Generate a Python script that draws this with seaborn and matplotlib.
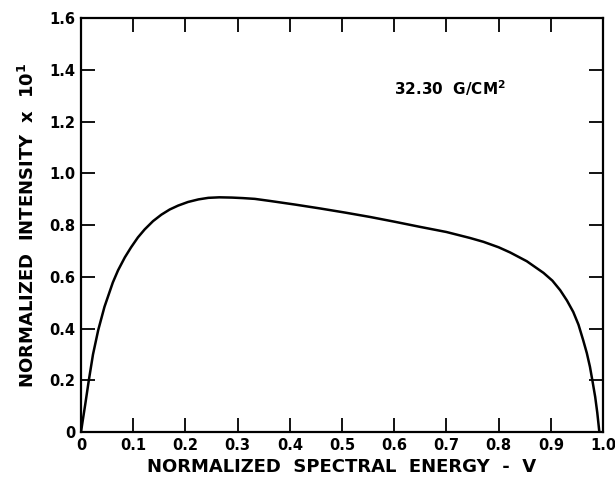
import matplotlib
matplotlib.use("Agg")
import matplotlib.pyplot as plt
import seaborn as sns
import pandas as pd

# values
energy = [0.0, 0.003, 0.008, 0.015, 0.023, 0.033, 0.045, 0.061, 0.071, 0.084, 0.096,
          0.109, 0.122, 0.138, 0.154, 0.170, 0.186, 0.205, 0.225, 0.244, 0.265, 0.289,
          0.310, 0.333, 0.362, 0.410, 0.458, 0.506, 0.554, 0.600, 0.649, 0.700, 0.745,
          0.771, 0.800, 0.822, 0.854, 0.886, 0.903, 0.918, 0.931, 0.943, 0.953, 0.962,
          0.969, 0.975, 0.980, 0.985, 0.989, 0.993]
intensity = [0.0, 0.04, 0.105, 0.2, 0.3, 0.394, 0.484, 0.578, 0.625, 0.675, 0.714,
             0.752, 0.783, 0.815, 0.840, 0.860, 0.875, 0.889, 0.899, 0.905, 0.907, 0.906,
             0.904, 0.901, 0.893, 0.879, 0.864, 0.848, 0.831, 0.813, 0.793, 0.773, 0.750,
             0.735, 0.714, 0.694, 0.660, 0.615, 0.585, 0.548, 0.508, 0.464, 0.415, 0.355,
             0.305, 0.252, 0.195, 0.136, 0.075, 0.0]

x_ticks = [0.0, 0.1, 0.2, 0.3, 0.4, 0.5, 0.6, 0.7, 0.8, 0.9, 1.0]
x_labels = ["0", "0.1", "0.2", "0.3", "0.4", "0.5", "0.6", "0.7", "0.8", "0.9", "1.0"]
y_ticks = [0.0, 0.2, 0.4, 0.6, 0.8, 1.0, 1.2, 1.4, 1.6]
y_labels = ["0", "0.2", "0.4", "0.6", "0.8", "1.0", "1.2", "1.4", "1.6"]

sns.set_style("ticks")
plt.rcParams['font.family'] = ['DejaVu Sans']
plt.rcParams['text.color'] = 'black'
plt.rcParams['axes.labelcolor'] = 'black'

df = pd.DataFrame({'v': energy, 'intensity': intensity})

fig = plt.figure(figsize=(6.15, 4.79), dpi=100)
ax = fig.add_axes([0.1317, 0.0981, 0.8488, 0.8643])

sns.lineplot(data=df, x='v', y='intensity', ax=ax, color='black', linewidth=1.8,
             sort=False, estimator=None, solid_joinstyle='round')

ax.set_xlim(0, 1.0)
ax.set_ylim(0, 1.6)
ax.set_xticks(x_ticks)
ax.set_xticklabels(x_labels)
ax.set_yticks(y_ticks)
ax.set_yticklabels(y_labels)
ax.tick_params(direction='in', length=10, width=1.3, top=True, right=True,
               labelsize=10.5, pad=4, colors='black')
for lab in ax.get_xticklabels() + ax.get_yticklabels():
    lab.set_fontweight('bold')
for sp in ax.spines.values():
    sp.set_linewidth(1.6)
    sp.set_color('black')

ax.set_xlabel("NORMALIZED  SPECTRAL  ENERGY  -  V", fontsize=13, fontweight='bold', labelpad=4)
ax.set_ylabel("NORMALIZED  INTENSITY  x  10$^{\\mathbf{1}}$", fontsize=13, fontweight='bold', labelpad=8)

ax.text(0.60, 1.33, "32.30  G/CM$^{\\mathbf{2}}$", fontsize=11, fontweight='bold', va='center', ha='left')

fig.savefig("out.png", dpi=100)
